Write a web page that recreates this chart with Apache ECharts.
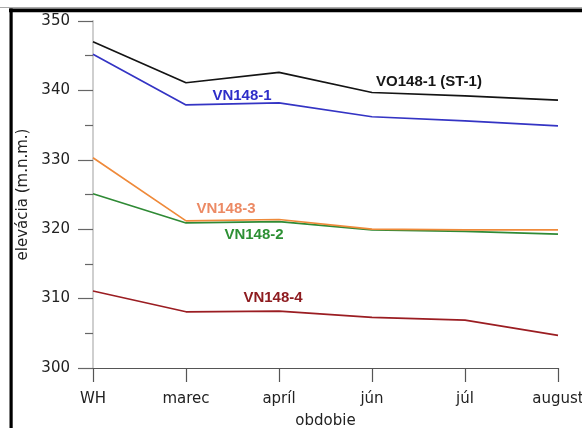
<!DOCTYPE html>
<html>
<head>
<meta charset="utf-8">
<script src="https://cdn.jsdelivr.net/npm/echarts@6/dist/echarts.min.js"></script>
<style>
html,body{margin:0;padding:0;background:#fff;}
#c{width:582px;height:428px;}
</style>
</head>
<body>
<div id="c"></div>
<script>
var categories = ['WH', 'marec', 'apríl', 'jún', 'júl', 'august'];
var vo148_1 = [347.0, 341.1, 342.6, 339.7, 339.2, 338.6];
var vn148_1 = [345.2, 337.9, 338.2, 336.2, 335.6, 334.9];
var vn148_3 = [330.3, 321.2, 321.4, 320.0, 319.9, 319.9];
var vn148_2 = [325.1, 320.9, 321.1, 319.9, 319.7, 319.3];
var vn148_4 = [311.1, 308.1, 308.2, 307.3, 306.9, 304.7];
var seriesNames = ['VO148-1 (ST-1)', 'VN148-1', 'VN148-3', 'VN148-2', 'VN148-4'];
var yTicks = [300, 310, 320, 330, 340, 350];

var chart = echarts.init(document.getElementById('c'), null, {renderer: 'canvas'});

var lineColors = ['#141414', '#3434c4', '#ef8a3a', '#2f8a35', '#9b1d22'];
var labelColors = ['#161616', '#2e2ec8', '#ec8a64', '#2d9034', '#8e1c20'];
var labelPos = [[429, 82], [242, 96], [226, 209], [254, 235], [273, 298]];
var allData = [vo148_1, vn148_1, vn148_3, vn148_2, vn148_4];

var series = allData.map(function (d, i) {
  return {
    name: seriesNames[i],
    type: 'line',
    data: d,
    symbol: 'none',
    lineStyle: {color: lineColors[i], width: 1.7},
    z: 10 - i
  };
});

var graphics = [
  {type: 'rect', shape: {x: 0, y: 7, width: 582, height: 1}, style: {fill: '#aaa'}, silent: true},
  {type: 'rect', shape: {x: 9, y: 8.5, width: 573, height: 3.8}, style: {fill: '#000'}, silent: true},
  {type: 'rect', shape: {x: 9.5, y: 8.5, width: 3.2, height: 420}, style: {fill: '#000'}, silent: true}
];
seriesNames.forEach(function (n, i) {
  graphics.push({
    type: 'text',
    x: labelPos[i][0], y: labelPos[i][1],
    style: {
      text: n, fill: labelColors[i],
      font: 'bold 15px "Liberation Sans", Arial, sans-serif',
      align: 'center', verticalAlign: 'middle'
    },
    silent: true
  });
});

chart.setOption({
  animation: false,
  backgroundColor: '#fff',
  grid: {left: 93, right: 24, top: 21, bottom: 60, containLabel: false, outerBoundsMode: 'none'},
  xAxis: {
    type: 'category',
    data: categories,
    boundaryGap: false,
    name: 'obdobie',
    nameLocation: 'middle',
    nameGap: 46,
    nameTextStyle: {fontFamily: 'DejaVu Sans', fontSize: 15, color: '#222'},
    axisLine: {lineStyle: {color: '#555', width: 1.2}},
    axisTick: {length: 14, lineStyle: {color: '#555', width: 1.2}, alignWithLabel: true},
    axisLabel: {fontFamily: 'DejaVu Sans', fontSize: 15, color: '#222', margin: 24, interval: 0},
    splitLine: {show: false}
  },
  yAxis: {
    type: 'value',
    min: yTicks[0],
    max: yTicks[yTicks.length - 1],
    interval: 10,
    name: 'elevácia (m.n.m.)',
    nameLocation: 'middle',
    nameGap: 54,
    nameTextStyle: {fontFamily: 'DejaVu Sans', fontSize: 15, color: '#222'},
    axisLine: {show: true, lineStyle: {color: '#cfcfcf', width: 2}},
    axisTick: {show: true, length: 15, lineStyle: {color: '#666', width: 1.2}},
    minorTick: {show: true, splitNumber: 2, length: 8, lineStyle: {color: '#666', width: 1.2}},
    axisLabel: {fontFamily: 'DejaVu Sans', fontSize: 15, color: '#222', margin: 23},
    splitLine: {show: false}
  },
  series: series,
  graphic: graphics
});
</script>
</body>
</html>
